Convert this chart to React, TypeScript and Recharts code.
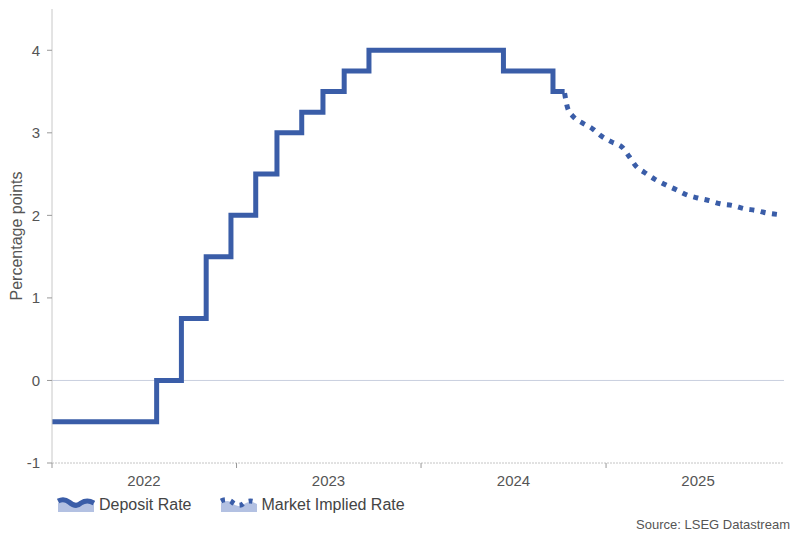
import React from 'react'
import {
  LineChart,
  Line,
  XAxis,
  YAxis,
  ReferenceLine,
} from 'recharts'

// ECB deposit rate (step changes) and market implied path
const depositDates = [
  '2022-01-01', '2022-07-27', '2022-09-14', '2022-11-02', '2022-12-21',
  '2023-02-08', '2023-03-22', '2023-05-10', '2023-06-21', '2023-08-02',
  '2023-09-20', '2024-06-12', '2024-09-18', '2024-10-11',
]
const depositValues = [
  -0.5, 0, 0.75, 1.5, 2.0,
  2.5, 3.0, 3.25, 3.5, 3.75,
  4.0, 3.75, 3.5, 3.5,
]

const impliedDates = [
  '2024-10-11', '2024-10-17', '2024-10-29', '2024-11-15', '2024-12-05',
  '2024-12-23', '2025-01-12', '2025-02-03', '2025-02-16', '2025-03-02',
  '2025-03-18', '2025-04-07', '2025-04-29', '2025-05-20', '2025-06-09',
  '2025-07-01', '2025-07-23', '2025-08-15', '2025-09-08', '2025-10-02',
  '2025-10-24', '2025-11-14', '2025-12-08',
]
const impliedValues = [
  3.48, 3.3, 3.19, 3.12, 3.05,
  2.96, 2.89, 2.82, 2.71, 2.59,
  2.52, 2.44, 2.37, 2.31, 2.25,
  2.21, 2.18, 2.14, 2.12, 2.08,
  2.06, 2.03, 2.01,
]

const yearStarts = ['2022-01-01', '2023-01-01', '2024-01-01', '2025-01-01']
const yearMids = ['2022-07-02', '2023-07-02', '2024-07-02', '2025-07-02']
const yearLabels = ['2022', '2023', '2024', '2025']
const yTicks = [-1, 0, 1, 2, 3, 4]

const toTs = (d: string) => Date.parse(d + 'T00:00:00Z')

const depositData = depositDates.map((d, i) => ({ t: toTs(d), value: depositValues[i] }))
const impliedData = impliedDates.map((d, i) => ({ t: toTs(d), value: impliedValues[i] }))

const startTicks = yearStarts.map(toTs)
const midTicks = yearMids.map(toTs)

const BLUE = '#3a5da8'
const TEXT = '#555'
const FONT = '"Liberation Sans", Arial, sans-serif'

const YearTick = ({ x, y, payload }: any) => {
  const v = payload.value
  const mi = midTicks.indexOf(v)
  if (mi >= 0) {
    return (
      <text x={x} y={y + 23} textAnchor="middle" fontSize={15} fill={TEXT} fontFamily={FONT}>
        {yearLabels[mi]}
      </text>
    )
  }
  return <line x1={x} x2={x} y1={y} y2={y + 5} stroke="#999" strokeWidth={1} />
}

const LegendIcon = ({ dotted }: { dotted?: boolean }) => (
  <svg width={38} height={16} style={{ display: 'block' }}>
    <path d="M1 6 Q8 2 12 6 Q19 12 24 7 Q30 3 37 7 L37 15 L1 15 Z" fill="#b3c1e2" />
    <path
      d="M1 4 Q7 1 12 5 Q19 11 24 6 Q30 2 37 6"
      fill="none"
      stroke={BLUE}
      strokeWidth={5}
      strokeDasharray={dotted ? '4 6' : undefined}
    />
  </svg>
)

export default function App() {
  return (
    <div style={{ position: 'absolute', left: 0, top: 0, width: 801, height: 536, background: '#fff', fontFamily: FONT }}>
      <LineChart width={801} height={536} margin={{ top: 9, right: 17, left: 0, bottom: 43 }}>
        <XAxis
          dataKey="t"
          type="number"
          domain={[toTs('2022-01-01'), toTs('2025-12-19')]}
          ticks={[...startTicks, ...midTicks]}
          interval={0}
          tick={<YearTick />}
          tickLine={false}
          tickSize={0}
          tickMargin={0}
          height={30}
          stroke="#c4c4c4"
          strokeDasharray="2 1"
          allowDataOverflow
        />
        <YAxis
          type="number"
          domain={[-1, 4.5]}
          ticks={yTicks}
          width={52}
          stroke="#c8c8c8"
          tickSize={5}
          tickMargin={7}
          tickLine={{ stroke: '#999' }}
          tick={{ fill: TEXT, fontSize: 15, fontFamily: FONT }}
          label={() => (
            <text
              x={16}
              y={236}
              transform="rotate(-90 16 236)"
              textAnchor="middle"
              dominantBaseline="central"
              fontSize={16}
              fill={TEXT}
              fontFamily={FONT}
            >
              Percentage points
            </text>
          )}
        />
        <ReferenceLine y={0} stroke="#c9cfdf" strokeWidth={1} />
        <Line
          data={depositData}
          dataKey="value"
          type="stepAfter"
          stroke={BLUE}
          strokeWidth={5}
          dot={false}
          isAnimationActive={false}
          name="Deposit Rate"
        />
        <Line
          data={impliedData}
          dataKey="value"
          type="monotone"
          stroke={BLUE}
          strokeWidth={5}
          strokeDasharray="5 6.5"
          dot={false}
          isAnimationActive={false}
          name="Market Implied Rate"
        />
      </LineChart>

      <div style={{ position: 'absolute', left: 57, top: 496, display: 'flex', alignItems: 'center', fontSize: 16, color: '#444' }}>
        <LegendIcon />
        <span style={{ marginLeft: 4 }}>Deposit Rate</span>
        <span style={{ width: 28 }} />
        <LegendIcon dotted />
        <span style={{ marginLeft: 4 }}>Market Implied Rate</span>
      </div>

      <div style={{ position: 'absolute', right: 11, top: 517, fontSize: 13, color: '#555' }}>
        Source: LSEG Datastream
      </div>
    </div>
  )
}
